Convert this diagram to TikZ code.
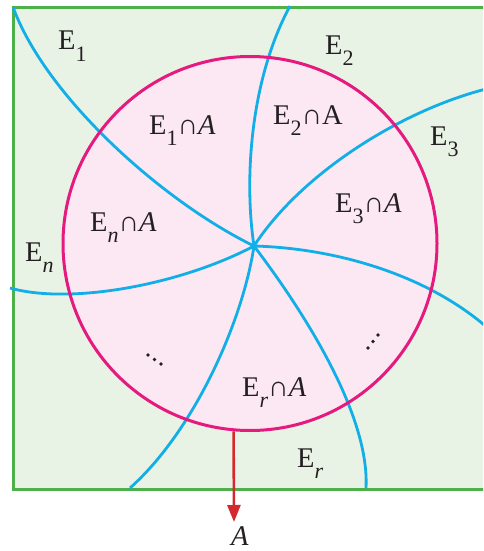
\documentclass[tikz,border=0pt]{standalone}
\usepackage{fontspec}
\setmainfont{Liberation Serif}
\usetikzlibrary{arrows.meta}
\definecolor{bgreen}{HTML}{E9F3E5}
\definecolor{lgreen}{HTML}{4DB04A}
\definecolor{cpink}{HTML}{FCE8F2}
\definecolor{cmag}{HTML}{E6197F}
\definecolor{cblue}{HTML}{12AEE8}
\definecolor{cred}{HTML}{D42A2F}
\definecolor{ctext}{HTML}{231F20}
\newcommand{\Esub}[1]{E\raisebox{-11pt}{\fontsize{22}{22}\selectfont #1}}
\tikzset{
  lbl/.style={anchor=base west, inner sep=0pt, text=ctext, font=\fontsize{28.5}{30}\selectfont},
  bline/.style={draw=cblue, line width=2.8pt},
  dotm/.style={fill=ctext, circle, inner sep=0pt, minimum size=3.8pt}
}
\begin{document}
\begin{tikzpicture}[x=1pt,y=-1pt]
\useasboundingbox (0,0) rectangle (483,551);
\clip (0,0) rectangle (483,551);
% sample space
\node[draw=lgreen, fill=bgreen, line width=3pt, anchor=north west, minimum width=490pt, minimum height=482pt, inner sep=0pt] (S) at (12,6) {};
% event A
\node[circle, fill=cpink, minimum size=374pt, inner sep=0pt] (C) at (250,243.5) {};
% hub and boundary points
\coordinate (H) at (254,246);
\coordinate (p1) at (13,7);
\coordinate (p2) at (290,6);
\coordinate (p3) at (490,88);
\coordinate (p4) at (490,330);
\coordinate (p5) at (366,488);
\coordinate (p6) at (130,488);
\coordinate (p7) at (10,288);
\draw[bline] (p1) .. controls (45,95) and (160,200) .. (H);
\draw[bline] (p2) .. controls (250,80) and (244,180) .. (H);
\draw[bline] (p3) .. controls (400,110) and (300,175) .. (H);
\draw[bline] (H) .. controls (330,248) and (425,272) .. (p4);
\draw[bline] (H) .. controls (295,300) and (370,410) .. (p5);
\draw[bline] (H) .. controls (243,320) and (195,430) .. (p6);
\draw[bline] (H) .. controls (180,285) and (70,305) .. (p7);
% circle outline
\node[circle, draw=cmag, line width=3pt, minimum size=374pt, inner sep=0pt] (Cb) at (250,243.5) {};
% arrow
\coordinate (Aend) at (234,522);
\draw[cred, line width=2.6pt, -{Triangle[length=17pt,width=13pt]}] (Cb.-95) -- (Aend);
\node[lbl] (lA) at (231,545) {\textit{A}};
% labels
\node[lbl] (l1) at (58,50) {\Esub{1}};
\node[lbl] (l2) at (325,55) {\Esub{2}};
\node[lbl] (l3) at (430,145) {\Esub{3}};
\node[lbl] (ln) at (25,261) {\Esub{\textit{n}}};
\node[lbl] (lr) at (297,467) {\Esub{\textit{r}}};
\node[lbl] (i1) at (149,134) {\Esub{1}∩\textit{A}};
\node[lbl] (i2) at (273,124) {\Esub{2}∩A};
\node[lbl] (i3) at (335,212) {\Esub{3}∩\textit{A}};
\node[lbl] (in) at (90,231) {\Esub{\textit{n}}∩\textit{A}};
\node[lbl] (ir) at (242,396) {\Esub{\textit{r}}∩\textit{A}};
% dots
\node[dotm] (d1) at (148,355) {};
\node[dotm] (d2) at (154.5,359.5) {};
\node[dotm] (d3) at (161,364) {};
\node[dotm] (d4) at (368,348) {};
\node[dotm] (d5) at (373,341.5) {};
\node[dotm] (d6) at (378,335) {};
\end{tikzpicture}
\end{document}
